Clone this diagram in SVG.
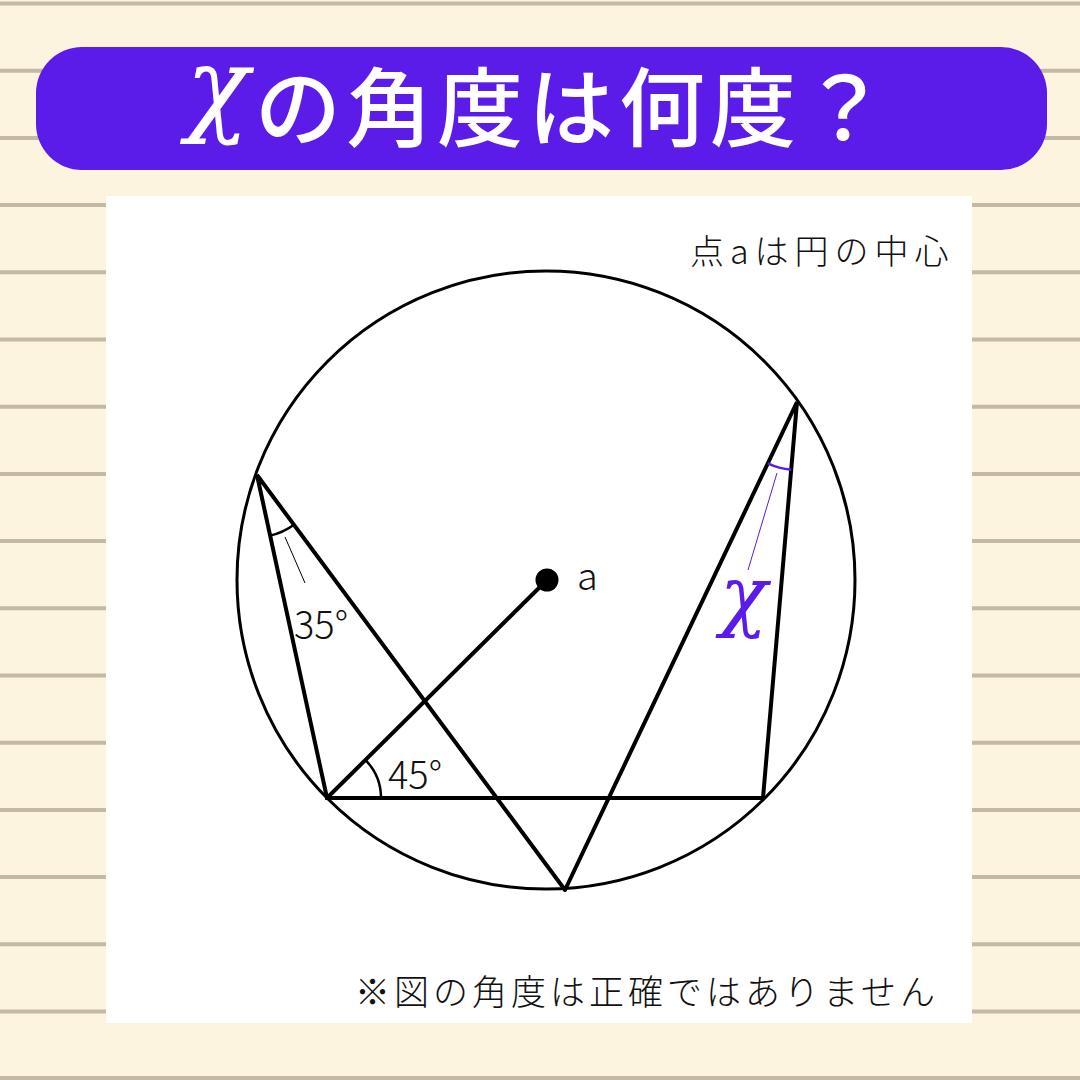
<svg xmlns="http://www.w3.org/2000/svg" width="1080" height="1080" viewBox="0 0 1080 1080">
<defs>
<style>
.rule{stroke:#C3B9A4;stroke-width:4}
.fig{fill:none;stroke:#000;stroke-width:4;stroke-linecap:round}
.arc{fill:none;stroke:#000;stroke-width:2.5}
.lead{stroke:#000;stroke-width:1}
.jp{font-family:"Noto Sans CJK JP","Noto Sans",sans-serif;font-weight:300;fill:#111}
.lbl{font-family:"Noto Sans CJK JP","Noto Sans",sans-serif;font-weight:300;font-size:38px;fill:#111}
.chi{font-family:"DejaVu Serif",serif;font-style:italic}
</style>
</defs>
<rect width="1080" height="1080" fill="#FDF4DF"/>
<g id="rules">
<line class="rule" x1="0" x2="1080" y1="3.5" y2="3.5"/>
<line class="rule" x1="0" x2="1080" y1="70.7" y2="70.7"/>
<line class="rule" x1="0" x2="1080" y1="137.9" y2="137.9"/>
<line class="rule" x1="0" x2="1080" y1="205.1" y2="205.1"/>
<line class="rule" x1="0" x2="1080" y1="272.3" y2="272.3"/>
<line class="rule" x1="0" x2="1080" y1="339.5" y2="339.5"/>
<line class="rule" x1="0" x2="1080" y1="406.7" y2="406.7"/>
<line class="rule" x1="0" x2="1080" y1="473.9" y2="473.9"/>
<line class="rule" x1="0" x2="1080" y1="541.1" y2="541.1"/>
<line class="rule" x1="0" x2="1080" y1="608.3" y2="608.3"/>
<line class="rule" x1="0" x2="1080" y1="675.5" y2="675.5"/>
<line class="rule" x1="0" x2="1080" y1="742.7" y2="742.7"/>
<line class="rule" x1="0" x2="1080" y1="809.9" y2="809.9"/>
<line class="rule" x1="0" x2="1080" y1="877.1" y2="877.1"/>
<line class="rule" x1="0" x2="1080" y1="944.3" y2="944.3"/>
<line class="rule" x1="0" x2="1080" y1="1011.5" y2="1011.5"/>
<line class="rule" x1="0" x2="1080" y1="1078" y2="1078"/>
</g>
<g id="title">
<rect x="36" y="47" width="1011" height="123" rx="46" fill="#5B1BE8"/>
<text fill="#fff"><tspan class="chi" x="186" y="122" font-size="104">χ</tspan><tspan x="255" y="140" font-family="'Noto Sans CJK JP',sans-serif" font-weight="500" font-size="86" letter-spacing="5">の角度は何度？</tspan></text>
</g>
<rect id="panel" x="106" y="196" width="866" height="827" fill="#fff"/>
<text id="note" class="jp" x="690" y="264" font-size="34" letter-spacing="6">点aは円の中心</text>
<text id="disclaimer" class="jp" x="355" y="1005" font-size="35" letter-spacing="4">※図の角度は正確ではありません</text>
<g id="circle"><circle cx="546" cy="580" r="309" fill="none" stroke="#000" stroke-width="3"/></g>
<g id="connectors">
<polyline class="fig" points="565,890 257,475 327,798 763,798 797,402 565,890"/>
<line class="fig" x1="327" y1="798" x2="547" y2="580"/>
</g>
<g id="center-a">
<circle cx="547" cy="580" r="11.5" fill="#000"/>
<text class="lbl" x="577" y="590" font-size="34">a</text>
</g>
<g id="angle-35">
<path class="arc" d="M270.1,535.6 A62,62 0 0 0 293.9,524.8"/>
<line class="lead" x1="285" y1="537" x2="305" y2="583"/>
<text class="lbl" x="294" y="639">35°</text>
</g>
<g id="angle-45">
<path class="arc" d="M381,798 A54,54 0 0 0 365.4,760"/>
<text class="lbl" x="388" y="789">45°</text>
</g>
<g id="angle-x">
<path d="M767.8,463.4 A68,68 0 0 0 791.2,469.7" fill="none" stroke="#5B1BE8" stroke-width="2.5"/>
<line x1="777" y1="473" x2="748" y2="570" stroke="#5B1BE8" stroke-width="1"/>
<text class="chi" x="720" y="622" fill="#5B1BE8" font-size="78">χ</text>
</g>
</svg>
